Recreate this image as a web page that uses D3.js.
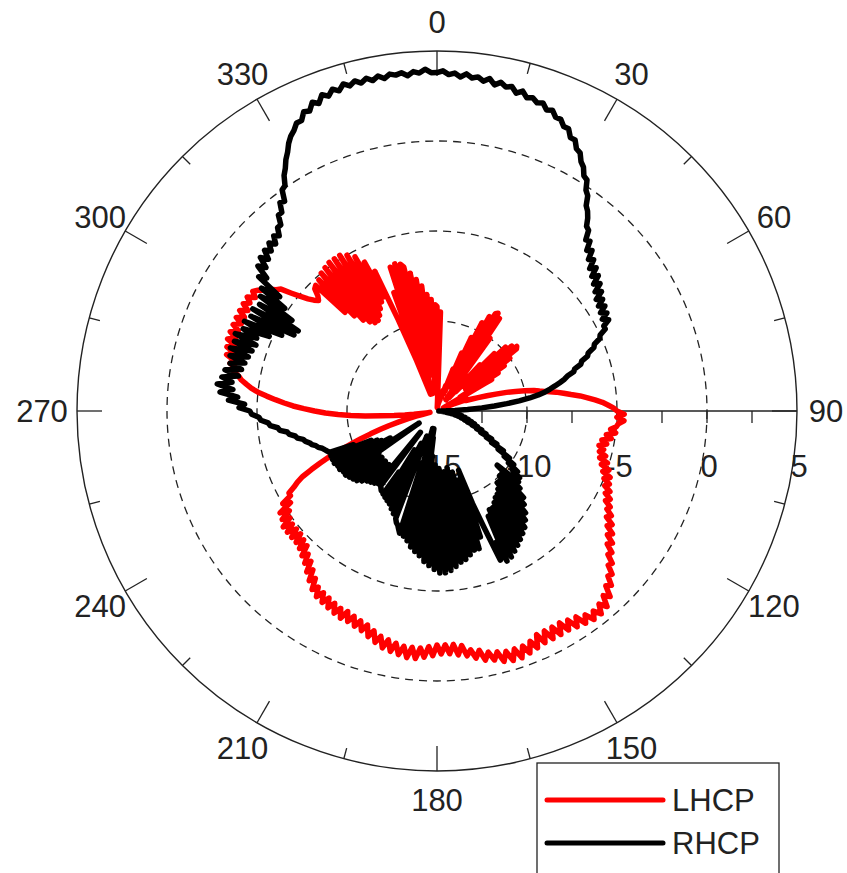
<!DOCTYPE html>
<html><head><meta charset="utf-8">
<script src="https://cdn.jsdelivr.net/npm/d3@7"></script>
<style>
body{margin:0;background:#fff;}
svg{display:block;}
text{font-family:"Liberation Sans",Arial,Helvetica,sans-serif;fill:#222;}
</style>
</head><body>
<svg id="chart" width="847" height="873"></svg>
<script>
// ---------- data (dB, one value per degree, 0..359, clockwise from top) ----------
const angleDeg = d3.range(0, 360, 1);
const lhcp = [
-9.2,-14.0,-9.5,-14.5,-14.8,-14.6,-14.8,-14.5,-14.7,-14.4,
-14.6,-14.3,-14.5,-14.2,-14.4,-14.0,-14.3,-13.8,-14.2,-13.5,
-14.0,-12.5,-13.8,-11.5,-13.5,-10.5,-13.0,-9.5,-12.5,-9.0,
-11.0,-8.7,-8.6,-13.5,-8.8,-13.0,-10.0,-14.0,-13.5,-14.2,
-13.8,-12.5,-14.0,-11.5,-13.5,-10.5,-13.0,-9.8,-12.5,-9.5,
-12.0,-9.3,-9.4,-13.0,-10.0,-12.0,-10.5,-13.0,-11.0,-13.5,
-11.5,-14.0,-14.3,-14.5,-14.6,-14.5,-14.3,-14.0,-13.6,-13.2,
-13.3,-13.0,-12.6,-12.1,-11.6,-11.0,-10.5,-10.0,-9.5,-9.2,
-8.8,-8.3,-7.9,-7.5,-7.0,-6.6,-6.2,-5.8,-5.5,-5.2,
-5.0,-4.6,-5.0,-4.6,-4.9,-5.0,-5.3,-5.0,-5.5,-5.2,
-5.7,-5.4,-5.8,-5.5,-5.7,-5.3,-5.6,-5.1,-5.4,-4.9,
-5.2,-4.7,-5.0,-4.6,-4.8,-4.4,-4.6,-4.2,-4.4,-4.0,
-4.1,-3.7,-3.9,-3.4,-3.6,-3.1,-3.3,-2.8,-3.0,-2.5,
-2.6,-2.1,-2.2,-1.7,-1.8,-1.3,-1.5,-0.9,-1.2,-0.6,
-1.0,-0.5,-0.9,-0.5,-1.0,-0.6,-1.2,-0.7,-1.3,-0.8,
-1.4,-0.8,-1.4,-0.8,-1.4,-0.8,-1.4,-0.7,-1.2,-0.6,
-1.1,-0.5,-1.1,-0.5,-1.1,-0.6,-1.2,-0.8,-1.3,-0.9,
-1.5,-1.1,-1.6,-1.3,-1.9,-1.4,-2.0,-1.5,-2.0,-1.5,
-2.0,-1.4,-1.9,-1.3,-1.8,-1.2,-1.8,-1.2,-1.8,-1.3,
-1.9,-1.4,-2.0,-1.5,-2.1,-1.7,-2.3,-1.9,-2.5,-2.1,
-2.6,-2.2,-2.7,-2.3,-2.8,-2.3,-2.8,-2.4,-2.9,-2.5,
-3.0,-2.6,-3.1,-2.7,-3.2,-2.9,-3.5,-3.2,-3.8,-3.5,
-4.1,-3.8,-4.3,-4.0,-4.6,-4.2,-4.7,-4.3,-4.8,-4.3,
-4.8,-4.3,-4.8,-4.3,-4.9,-4.5,-5.1,-4.6,-5.4,-5.0,
-5.6,-5.6,-6.0,-6.3,-6.7,-7.3,-7.9,-8.5,-9.2,-9.9,
-10.5,-11.1,-11.7,-12.2,-12.8,-13.3,-13.8,-14.2,-14.5,-14.6,
-14.4,-14.1,-13.7,-13.2,-12.6,-11.9,-11.0,-10.2,-9.5,-8.8,
-8.2,-7.6,-7.0,-6.5,-6.0,-5.5,-5.0,-4.6,-4.3,-4.0,
-3.8,-3.5,-3.6,-3.2,-3.4,-2.9,-3.3,-2.8,-3.2,-2.7,
-3.1,-2.7,-3.1,-2.7,-3.1,-2.7,-3.1,-2.7,-3.1,-2.7,
-3.0,-2.7,-3.1,-2.8,-3.0,-3.3,-3.5,-3.8,-4.0,-4.6,
-5.1,-5.5,-5.8,-6.0,-5.8,-5.4,-5.3,-7.5,-5.2,-8.0,
-5.0,-8.5,-4.9,-8.8,-4.8,-9.0,-4.8,-9.0,-4.8,-8.8,
-5.0,-8.5,-5.3,-8.2,-5.8,-8.0,-6.5,-9.5,-12.0,-14.0,
-8.0,-14.0,-6.6,-13.5,-6.5,-14.0,-6.6,-6.8,-13.0,-7.2,
-12.0,-7.6,-12.5,-8.0,-13.0,-8.5,-13.5,-8.8,-14.0,-9.1
];
const rhcp = [
3.8,3.9,3.7,3.8,3.6,3.8,3.6,3.7,3.5,3.7,
3.4,3.6,3.4,3.5,3.2,3.4,3.1,3.2,3.0,3.1,
2.8,2.9,2.6,2.6,2.3,2.3,1.9,1.9,1.5,1.4,
1.0,0.8,0.4,0.3,-0.2,-0.4,-0.9,-1.1,-1.4,-1.8,
-1.9,-2.4,-2.3,-2.8,-2.6,-3.1,-2.9,-3.4,-3.1,-3.6,
-3.3,-3.8,-3.5,-4.0,-3.7,-4.2,-3.9,-4.3,-4.0,-4.4,
-4.1,-4.5,-4.2,-4.6,-4.6,-5.0,-5.1,-5.5,-5.6,-6.0,
-6.1,-6.5,-6.6,-7.0,-7.1,-7.5,-7.7,-8.0,-8.3,-8.6,
-8.9,-9.3,-9.8,-10.4,-11.1,-11.8,-12.5,-13.3,-14.0,-14.5,
-14.8,-14.7,-14.9,-14.6,-14.8,-14.5,-14.7,-14.4,-14.5,-14.3,
-14.2,-13.6,-14.0,-13.4,-13.8,-13.2,-13.6,-13.0,-13.4,-12.8,
-13.2,-12.6,-12.9,-12.3,-12.6,-12.0,-12.3,-11.6,-11.9,-11.2,
-11.5,-10.7,-11.0,-10.2,-10.5,-9.8,-10.1,-9.4,-9.7,-9.1,
-9.3,-9.0,-10.5,-8.7,-10.0,-8.2,-10.0,-7.9,-9.8,-7.5,
-9.8,-7.2,-9.5,-6.9,-9.3,-6.7,-9.2,-6.5,-9.0,-6.3,
-8.8,-6.1,-8.8,-5.9,-8.5,-5.8,-7.0,-6.0,-8.0,-9.5,
-11.5,-7.6,-11.0,-7.0,-11.0,-7.0,-11.5,-6.8,-11.2,-6.6,
-11.8,-6.5,-11.3,-6.3,-11.6,-6.1,-11.2,-6.0,-11.8,-6.0,
-11.4,-6.2,-12.0,-6.4,-11.5,-6.6,-12.5,-6.9,-13.5,-7.1,
-14.0,-7.3,-13.0,-7.6,-14.0,-7.8,-12.0,-7.9,-8.1,-8.3,
-8.4,-8.6,-13.5,-8.8,-12.0,-9.0,-13.0,-9.2,-11.5,-9.3,
-12.5,-9.4,-11.0,-9.5,-9.6,-9.6,-9.7,-9.8,-13.5,-9.8,
-10.5,-9.7,-11.0,-9.6,-10.5,-9.5,-11.0,-9.3,-10.5,-9.1,
-11.0,-9.0,-10.5,-8.9,-11.0,-8.8,-13.8,-8.8,-11.5,-8.7,
-12.0,-8.7,-11.5,-8.6,-11.3,-8.6,-11.0,-8.6,-10.0,-8.6,
-8.5,-8.4,-8.3,-8.1,-8.0,-7.8,-7.7,-7.5,-7.4,-7.1,
-7.0,-6.7,-6.6,-6.2,-6.1,-5.7,-5.6,-5.2,-5.1,-4.7,
-4.6,-4.0,-4.3,-3.4,-3.9,-2.9,-3.6,-2.7,-3.5,-2.9,
-3.8,-3.0,-3.9,-3.2,-4.0,-3.1,-4.1,-3.0,-4.2,-3.1,
-4.3,-3.0,-4.2,-3.3,-4.8,-3.2,-5.4,-3.4,-6.0,-3.3,
-6.1,-3.5,-5.5,-3.3,-4.8,-3.1,-4.2,-2.6,-3.0,-2.2,
-2.6,-2.0,-2.4,-1.9,-2.2,-1.8,-2.1,-1.7,-1.9,-1.5,
-1.5,-1.0,-1.0,-0.5,-0.6,0.0,0.1,0.6,0.9,1.3,
1.6,2.0,2.3,2.5,2.8,2.8,3.2,3.1,3.5,3.3,
3.7,3.5,3.8,3.6,3.9,3.7,3.9,3.7,3.9,3.7,
3.9,3.7,3.9,3.8,3.9,3.7,3.9,3.8,4.0,3.8
];
const angleTickLabels = [0,30,60,90,120,150,180,210,240,270,300,330];
const minorAngleTicks = [15,45,75,105,135,165,195,225,255,285,315,345];
const radialTickLabels = [-15,-10,-5,0,5];
const radialMinorTicks = [-12.5,-10,-7.5,-5,-2.5,0,2.5];
const dashedRings = [-10,-5,0];
const seriesNames = ["LHCP","RHCP"];
const seriesColors = ["#ff0000","#000000"];

// ---------- layout ----------
const cx = 437, cy = 411, R = 360;
const svg = d3.select("#chart");
const rScale = d3.scaleLinear().domain([-15, 5]).range([0, R]);
const aScale = d3.scaleLinear().domain([0, 360]).range([0, 2 * Math.PI]);
const g = svg.append("g").attr("transform", `translate(${cx},${cy})`);
const pol = (deg, r) => [r * Math.sin(aScale(deg)), -r * Math.cos(aScale(deg))];
const gridColor = "#222";

// rings
g.selectAll("circle.ring").data(dashedRings).join("circle")
  .attr("r", d => rScale(d)).attr("fill", "none")
  .attr("stroke", gridColor).attr("stroke-width", 1.3).attr("stroke-dasharray", "8,6");
g.append("circle").attr("r", R).attr("fill", "none").attr("stroke", gridColor).attr("stroke-width", 1.4);

// radial axis line at 90°
g.append("line").attr("x1", 0).attr("y1", 0).attr("x2", R).attr("y2", 0)
  .attr("stroke", gridColor).attr("stroke-width", 1.4);
g.selectAll("line.rtick").data(radialMinorTicks).join("line")
  .attr("x1", d => rScale(d)).attr("x2", d => rScale(d))
  .attr("y1", 0).attr("y2", 12).attr("stroke", gridColor).attr("stroke-width", 1.3);

// angular ticks
g.selectAll("line.amaj").data(angleTickLabels).join("line")
  .each(function(d){
    const p1 = pol(d, R), p2 = pol(d, R - 25);
    d3.select(this).attr("x1", p1[0]).attr("y1", p1[1]).attr("x2", p2[0]).attr("y2", p2[1]);
  }).attr("stroke", gridColor).attr("stroke-width", 1.3);
g.selectAll("line.amin").data(minorAngleTicks).join("line")
  .each(function(d){
    const p1 = pol(d, R), p2 = pol(d, R - 11);
    d3.select(this).attr("x1", p1[0]).attr("y1", p1[1]).attr("x2", p2[0]).attr("y2", p2[1]);
  }).attr("stroke", gridColor).attr("stroke-width", 1.3);

// angle labels
g.selectAll("text.alab").data(angleTickLabels).join("text")
  .attr("x", d => pol(d, d === 270 ? 395 : 389)[0]).attr("y", d => pol(d, 389)[1] + 11)
  .attr("text-anchor", "middle").attr("font-size", 31).text(d => d);

// radial labels
g.selectAll("text.rlab").data(radialTickLabels).join("text")
  .attr("x", d => rScale(d) + 2).attr("y", 66)
  .attr("text-anchor", "middle").attr("font-size", 31).text(d => d < 0 ? "-" + Math.abs(d) : d);

// series
const line = d3.lineRadial()
  .angle(d => aScale(d.a)).radius(d => rScale(d.v)).curve(d3.curveLinearClosed);
const series = [lhcp, rhcp];
series.forEach((vals, i) => {
  const pts = angleDeg.map((a, k) => ({a: a, v: vals[k]}));
  g.append("path").attr("d", line(pts)).attr("fill", "none")
    .attr("stroke", seriesColors[i]).attr("stroke-width", 5.5)
    .attr("stroke-linejoin", "round").attr("stroke-linecap", "round");
});

// legend
const lg = svg.append("g");
lg.append("rect").attr("x", 537).attr("y", 763).attr("width", 242).attr("height", 120)
  .attr("fill", "#fff").attr("stroke", gridColor).attr("stroke-width", 1.3);
seriesNames.forEach((name, i) => {
  const y = 800 + i * 43;
  lg.append("line").attr("x1", 547).attr("x2", 663).attr("y1", y).attr("y2", y)
    .attr("stroke", seriesColors[i]).attr("stroke-width", 5).attr("stroke-linecap", "round");
  lg.append("text").attr("x", 672).attr("y", y + 11).attr("font-size", 31).text(name);
});
</script>
</body></html>
